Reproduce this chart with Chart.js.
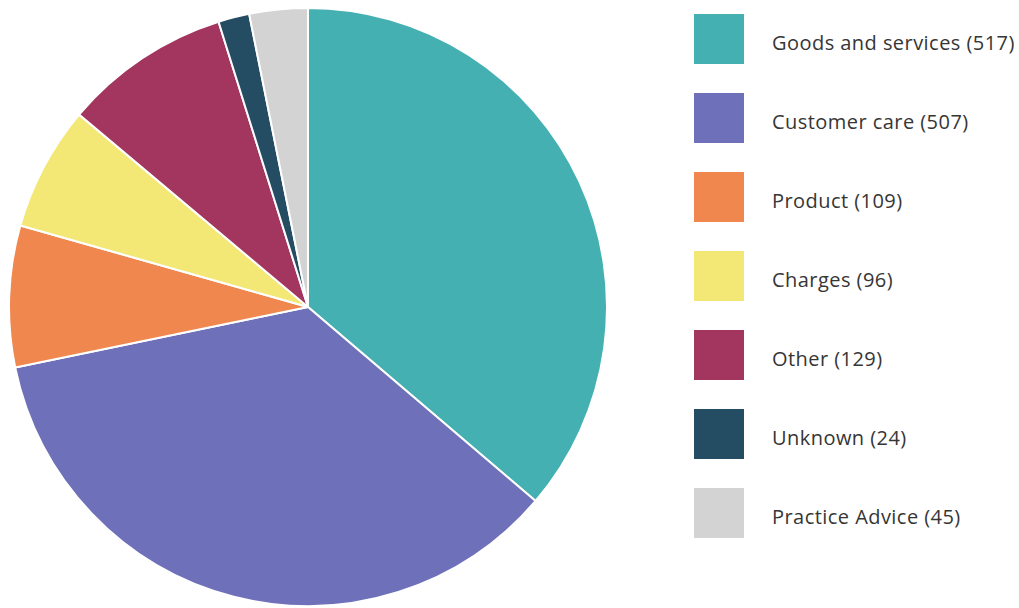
<!DOCTYPE html>
<html>
<head>
<meta charset="utf-8">
<script src="https://cdn.jsdelivr.net/npm/chart.js@4/dist/chart.umd.min.js"></script>
<style>
  html, body { margin: 0; padding: 0; background: #ffffff; }
  body { width: 1019px; height: 608px; position: relative; overflow: hidden; font-family: "Open Sans", "Lato", sans-serif; }
  #pieWrap { position: absolute; left: 8px; top: 7px; width: 600px; height: 600px; }
  #legend { position: absolute; left: 694px; top: 14px; margin: 0; padding: 0; list-style: none; }
  #legend li { display: flex; align-items: center; height: 50px; margin-bottom: 29px; }
  #legend .box { width: 50px; height: 50px; flex: none; }
  #legend .txt { margin-left: 28px; font-size: 20px; letter-spacing: 0.45px; color: #363636; white-space: nowrap; position: relative; top: 3px; }
</style>
</head>
<body>
<div id="pieWrap"><canvas id="pie"></canvas></div>
<ul id="legend"></ul>
<script>
const categories = ["Goods and services", "Customer care", "Product", "Charges", "Other", "Unknown", "Practice Advice"];
const counts = [517, 507, 109, 96, 129, 24, 45];
const sliceColors = ["#45B0B1", "#6E70B9", "#F0874F", "#F3E876", "#A3365E", "#244C63", "#D3D3D3"];

new Chart(document.getElementById("pie"), {
  type: "pie",
  data: {
    labels: categories,
    datasets: [{
      data: counts,
      backgroundColor: sliceColors,
      borderColor: "#ffffff",
      borderWidth: 2
    }]
  },
  options: {
    responsive: true,
    maintainAspectRatio: false,
    animation: false,
    layout: { padding: 0 },
    plugins: {
      legend: { display: false },
      tooltip: { enabled: false }
    }
  }
});

// Legend built from the same arrays as the chart
const legend = document.getElementById("legend");
categories.forEach((name, i) => {
  const li = document.createElement("li");
  const box = document.createElement("span");
  box.className = "box";
  box.style.background = sliceColors[i];
  const txt = document.createElement("span");
  txt.className = "txt";
  txt.textContent = name + " (" + counts[i] + ")";
  li.appendChild(box);
  li.appendChild(txt);
  legend.appendChild(li);
});
</script>
</body>
</html>
